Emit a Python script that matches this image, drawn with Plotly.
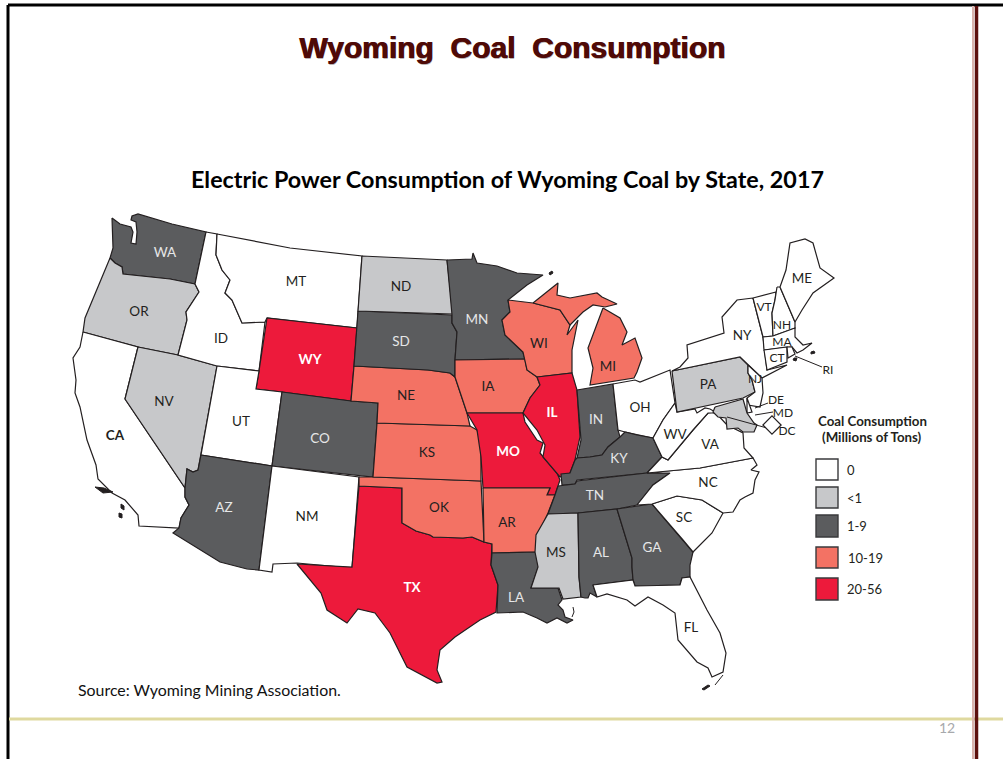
import plotly.graph_objects as go

SLIDE_TITLE = "Wyoming  Coal  Consumption"
MAP_TITLE = "Electric Power Consumption of Wyoming Coal by State, 2017"
SOURCE = "Source: Wyoming Mining Association."
PAGE = "12"
LEGEND_TITLE = ["Coal Consumption", "(Millions of Tons)"]
LEGEND_LABELS = ["0", "<1", "1-9", "10-19", "20-56"]
CLASS_COLORS = ["#ffffff", "#c7c8ca", "#5b5c5e", "#f37264", "#ed1a3b"]

STATE_CLASS = {
    "WA": 2, "OR": 1, "CA": 0, "ID": 0, "NV": 1, "MT": 0, "WY": 4, "UT": 0, "AZ": 2, "CO": 2, "NM": 0,
    "ND": 1, "SD": 2, "NE": 3, "KS": 3, "OK": 3, "TX": 4, "MN": 2, "IA": 3, "MO": 4, "AR": 3, "LA": 2,
    "WI": 3, "IL": 4, "MI": 3, "IN": 2, "OH": 0, "KY": 2, "TN": 2, "MS": 1, "AL": 2, "GA": 2, "FL": 0,
    "SC": 0, "NC": 0, "VA": 0, "WV": 0, "PA": 1, "NY": 0, "VT": 0, "NH": 0, "ME": 0, "MA": 0, "CT": 0,
    "RI": 0, "NJ": 0, "DE": 0, "MD": 1,
}

# Boundary geometry of the map (map units)
OUTLINES = {
    "WA": [[(112,218),(120,224),(131,227),(133,232),(131,243),(136,244),(137,232),(136,222),(131,220),(132,216),(138,214),(172,224),(206,232),(195,284),(170,279),(123,274),(122,267),(115,263),(110,258),(113,248)]],
    "OR": [[(110,258),(115,263),(122,267),(123,274),(170,279),(195,284),(199,292),(186,312),(187,320),(178,355),(138,347),(83,332),(85,318),(96,292)]],
    "CA": [[(83,332),(138,347),(125,399),(185,488),(185,497),(189,505),(181,518),(179,528),(139,526),(138,515),(125,500),(112,493),(98,479),(96,465),(87,440),(83,420),(80,407),(75,393),(76,380),(73,358),(80,347)]],
    "NV": [[(138,347),(178,355),(217,366),(201,455),(198,470),(193,472),(187,469),(185,488),(125,399)]],
    "ID": [[(206,232),(217,234),(216,255),(222,270),(230,280),(225,293),(232,300),(242,323),(265,322),(259,371),(217,366),(178,355),(187,320),(186,312),(199,292),(195,284)]],
    "MT": [[(217,234),(290,248),(362,256),(357,328),(267,318),(265,322),(242,323),(232,300),(225,293),(230,280),(222,270),(216,255)]],
    "WY": [[(267,318),(357,328),(354,366),(351,401),(282,392),(256,389),(259,371)]],
    "UT": [[(217,366),(259,371),(256,389),(282,392),(272,466),(201,455)]],
    "CO": [[(282,392),(351,401),(378,403),(377,423),(373,477),(272,466)]],
    "AZ": [[(201,455),(272,466),(259,570),(247,569),(220,562),(173,533),(179,528),(181,518),(189,505),(185,497),(185,488),(187,469),(193,472),(198,470)]],
    "NM": [[(272,466),(359,477),(352,568),(297,563),(273,564),(272,572),(259,570)]],
    "TX": [[(359,486),(402,488),(402,523),(416,531),(430,535),(433,537),(463,538),(472,537),(484,542),(492,544),(491,565),(498,585),(496,612),(480,620),(455,637),(440,650),(437,670),(442,682),(437,683),(407,667),(390,633),(375,613),(358,609),(347,623),(327,610),(321,593),(297,564),(352,567)]],
    "OK": [[(359,477),(373,477),(481,481),(484,542),(472,537),(463,538),(433,537),(430,535),(416,531),(402,523),(402,488),(359,486)]],
    "KS": [[(377,423),(470,426),(477,430),(481,441),(481,481),(373,477)]],
    "NE": [[(354,366),(428,370),(450,373),(455,377),(467,413),(470,426),(377,423),(378,403),(351,401)]],
    "SD": [[(358,311),(452,315),(452,323),(457,332),(455,360),(455,377),(450,373),(428,370),(354,366)]],
    "ND": [[(362,256),(447,260),(453,314),(358,311)]],
    "MN": [[(447,260),(472,259),(473,253),(477,263),(497,266),(517,273),(543,275),(527,285),(508,300),(510,312),(502,320),(505,335),(523,352),(525,359),(455,360),(457,332),(452,323),(452,315)]],
    "IA": [[(455,360),(525,359),(527,370),(537,377),(540,385),(530,398),(523,413),(467,413),(455,377)]],
    "MO": [[(467,413),(523,413),(525,422),(537,440),(543,443),(540,453),(557,473),(560,480),(555,495),(547,495),(550,488),(483,488),(481,457),(477,430)]],
    "AR": [[(483,488),(550,488),(547,495),(555,495),(548,513),(537,537),(536,552),(492,553),(492,544),(484,542)]],
    "LA": [[(492,553),(536,552),(539,565),(531,588),(558,588),(562,600),(558,605),(563,610),(565,617),(573,620),(567,623),(557,618),(547,623),(537,618),(523,612),(497,613),(498,585),(491,565)]],
    "WI": [[(508,300),(533,303),(560,310),(570,325),(567,335),(578,320),(572,350),(572,373),(537,377),(527,370),(523,352),(505,335),(502,320),(510,312)]],
    "IL": [[(537,377),(572,373),(577,390),(580,437),(575,460),(570,473),(560,477),(543,457),(545,445),(537,430),(523,413),(530,398),(540,385)]],
    "MI": [[(533,303),(558,283),(557,295),(570,298),(597,293),(602,297),(617,304),(605,307),(593,305),(583,312),(570,325),(560,310)],
           [(603,308),(620,318),(627,332),(622,345),(635,338),(642,358),(637,372),(634,378),(590,385),(593,368),(588,348),(597,325)]],
    "IN": [[(577,390),(613,384),(618,430),(620,437),(608,447),(602,455),(590,457),(577,458),(581,440)]],
    "OH": [[(613,384),(635,380),(640,382),(670,370),(675,403),(663,420),(653,438),(637,435),(625,432),(618,430)]],
    "KY": [[(620,437),(625,432),(637,435),(653,438),(662,457),(647,473),(577,480),(575,484),(562,485),(561,474),(570,473),(575,460),(577,458),(590,457),(602,455),(608,447)]],
    "TN": [[(558,486),(575,484),(577,481),(647,473),(670,473),(653,485),(637,505),(617,509),(578,513),(548,514),(555,495)]],
    "MS": [[(548,514),(578,513),(579,577),(581,597),(563,599),(559,588),(531,588),(538,567),(535,552),(536,535)]],
    "AL": [[(578,513),(617,509),(632,558),(632,567),(633,580),(593,585),(597,597),(590,593),(588,598),(585,598),(581,597),(579,577)]],
    "GA": [[(617,509),(652,504),(663,517),(683,540),(693,552),(690,565),(690,577),(682,578),(680,585),(635,586),(633,580),(632,567),(632,558)]],
    "FL": [[(593,585),(633,580),(635,586),(680,585),(682,578),(690,577),(707,610),(720,633),(726,653),(723,672),(712,677),(708,668),(697,662),(678,640),(675,613),(663,605),(648,597),(635,606),(627,600),(607,594),(597,597)]],
    "SC": [[(652,504),(677,496),(702,500),(723,513),(712,533),(693,552),(683,540),(663,517)]],
    "NC": [[(647,473),(700,468),(753,458),(757,465),(751,470),(759,472),(755,480),(753,493),(745,497),(740,500),(733,512),(723,513),(702,500),(677,496),(652,504),(637,505),(653,485),(670,473)]],
    "VA": [[(662,457),(668,460),(693,430),(708,413),(715,412),(727,425),(743,433),(744,448),(753,458),(700,468),(647,473)]],
    "WV": [[(653,438),(663,420),(675,403),(677,412),(695,409),(697,413),(705,408),(710,409),(717,413),(708,413),(693,430),(668,460),(662,457)]],
    "PA": [[(672,371),(740,357),(748,365),(748,373),(752,380),(755,392),(743,398),(677,412)]],
    "NY": [[(753,298),(737,300),(722,317),(724,333),(687,345),(688,358),(680,367),(672,371),(740,357),(748,365),(762,378),(787,365),(770,369),(767,370),(763,337)]],
    "NJ": [[(748,365),(762,378),(763,393),(760,407),(748,405),(747,398),(755,392),(752,380),(748,373)]],
    "DE": [[(747,398),(752,412),(747,413)]],
    "MD": [[(715,407),(743,399),(747,413),(754,423),(757,425),(754,432),(743,432),(738,428),(727,429),(726,418),(718,417),(713,412)]],
    "VT": [[(753,298),(776,292),(775,300),(772,313),(773,336),(763,337)]],
    "NH": [[(777,287),(780,287),(795,322),(795,328),(773,336),(772,313),(775,300),(776,292)]],
    "ME": [[(780,287),(786,270),(790,243),(805,239),(813,243),(820,268),(834,278),(813,293),(802,310),(795,322)]],
    "MA": [[(763,337),(773,336),(795,328),(795,337),(803,345),(812,343),(803,350),(797,353),(792,347),(764,350)]],
    "CT": [[(764,350),(787,347),(787,362),(767,370)]],
    "RI": [[(787,347),(792,347),(795,354),(788,358)]],
}
ISLANDS = [
    [(95,487),(104,488),(113,492),(103,493)],
    [(121,504),(124,506),(124,510),(121,508)],
    [(119,513),(122,514),(122,518),(119,517)],
    [(811,352),(814,351),(815,353),(811,354)],
    [(794,358),(797,358),(796,361),(793,360)],
    [(702,689),(708,685),(710,686),(704,690)],
    [(549,273),(552,271),(553,273),(550,275)],
]
LEADERS = [
    [(795,356),(822,367)],
    [(755,408),(768,403)],
    [(755,415),(773,412)],
    [(727,417),(767,428)],
    [(723,675),(715,685)],
    [(573,607),(574,612),(572,617)],
]

LABELS = {
    "WA": (165,254,"#e6e7e8",0), "OR": (139,313,"#231f20",0), "CA": (115,437,"#231f20",1), "ID": (221,340,"#231f20",0),
    "NV": (164,403,"#231f20",0), "MT": (296,283,"#231f20",0), "WY": (310,361,"#ffffff",1), "UT": (241,423,"#231f20",0),
    "AZ": (224,509,"#e6e7e8",0), "CO": (320,440,"#e6e7e8",0), "NM": (307,518,"#231f20",0), "ND": (401,288,"#231f20",0),
    "SD": (401,343,"#e6e7e8",0), "NE": (406,397,"#231f20",0), "KS": (427,454,"#231f20",0), "OK": (439,509,"#231f20",0),
    "TX": (412,589,"#ffffff",1), "MN": (477,321,"#e6e7e8",0), "IA": (488,388,"#231f20",0), "MO": (508,453,"#ffffff",1),
    "AR": (507,524,"#231f20",0), "LA": (516,599,"#e6e7e8",0), "MS": (556,554,"#231f20",0), "AL": (601,554,"#e6e7e8",0),
    "GA": (652,549,"#e6e7e8",0), "FL": (691,629,"#231f20",0), "SC": (684,519,"#231f20",0), "NC": (708,484,"#231f20",0),
    "VA": (710,446,"#231f20",0), "WV": (675,436,"#231f20",0), "PA": (708,386,"#231f20",0), "NY": (742,337,"#231f20",0),
    "VT": (764,308,"#231f20",0), "NH": (782,326,"#231f20",0), "MA": (782,343,"#231f20",0), "CT": (777,359,"#231f20",0),
    "ME": (802,280,"#231f20",0), "NJ": (755,380,"#231f20",0), "DE": (776,401,"#231f20",0), "MD": (783,414,"#231f20",0),
    "DC": (787,432,"#231f20",0), "RI": (828,371,"#231f20",0), "OH": (640,409,"#231f20",0), "KY": (619,460,"#e6e7e8",0),
    "IN": (596,421,"#e6e7e8",0), "IL": (552,414,"#ffffff",1), "TN": (595,497,"#e6e7e8",0), "WI": (539,345,"#231f20",0),
    "MI": (608,368,"#231f20",0),
}
SMALL_LABELS = ["DE", "MD", "DC", "MA", "CT", "NH", "VT", "NJ", "RI"]

FONT = "Lato"
INK = "#231f20"
fig = go.Figure()

def ring_xy(rings):
    xs, ys = [], []
    for ring in rings:
        closed = list(ring) + [ring[0]]
        xs += [p[0] for p in closed] + [None]
        ys += [p[1] for p in closed] + [None]
    return xs, ys

for st, rings in OUTLINES.items():
    xs, ys = ring_xy(rings)
    fig.add_trace(go.Scatter(x=xs, y=ys, mode="lines", fill="toself", name=st,
                             fillcolor=CLASS_COLORS[STATE_CLASS[st]],
                             line=dict(color=INK, width=1.2), hoverinfo="name", showlegend=False))

xs, ys = ring_xy(ISLANDS)
fig.add_trace(go.Scatter(x=xs, y=ys, mode="lines", fill="toself", fillcolor=INK,
                         line=dict(color=INK, width=1), hoverinfo="skip", showlegend=False))
for seg in LEADERS:
    fig.add_trace(go.Scatter(x=[p[0] for p in seg], y=[p[1] for p in seg], mode="lines",
                             line=dict(color=INK, width=1), hoverinfo="skip", showlegend=False))
fig.add_trace(go.Scatter(x=[772], y=[425], mode="markers", hoverinfo="skip", showlegend=False,
                         marker=dict(symbol="diamond", size=14, color="#ffffff", line=dict(color=INK, width=1.2))))

names = list(LABELS)
fig.add_trace(go.Scatter(
    x=[LABELS[n][0] for n in names], y=[LABELS[n][1] for n in names], mode="text",
    text=[f"<b>{n}</b>" if LABELS[n][3] else n for n in names],
    textfont=dict(family=FONT, size=[12 if n in SMALL_LABELS else 13.5 for n in names],
                  color=[LABELS[n][2] for n in names]),
    hoverinfo="skip", showlegend=False))

# slide furniture and legend swatches
shapes = [
    dict(type="line", x0=8, x1=1003, y0=5, y1=5, line=dict(color="#000000", width=3)),
    dict(type="line", x0=8, x1=8, y0=5, y1=759, line=dict(color="#000000", width=3)),
    dict(type="line", x0=9, x1=1003, y0=719, y1=719, line=dict(color="#dfd99f", width=3)),
    dict(type="line", x0=973, x1=973, y0=6, y1=759, line=dict(color="#d9b3ad", width=2)),
    dict(type="line", x0=976.5, x1=976.5, y0=6, y1=759, line=dict(color="#5c0f0c", width=3.5)),
]
swatch_y = [(459,480),(487,508),(515,537),(547,568),(578,600)]
label_x = [845,845,845,846,845]
for color, (y0, y1) in zip(CLASS_COLORS, swatch_y):
    shapes.append(dict(type="rect", x0=816, x1=838, y0=y0, y1=y1, fillcolor=color, line=dict(color="#3a3a3c", width=1.4)))

def note(text, x, y, size, color=INK, anchor="left", family=FONT):
    return dict(text=text, x=x, y=y, xref="x", yref="y", xanchor=anchor, yanchor="middle", showarrow=False,
                font=dict(family=family, size=size, color=color))

anns = [
    note("<b>%s</b>" % SLIDE_TITLE, 513, 48, 30, "#b9b3b3", "center", "Liberation Sans"),
    note("<b>%s</b>" % SLIDE_TITLE, 512, 47, 30, "#4f0a07", "center", "Liberation Sans"),
    note("<b>%s</b>" % SLIDE_TITLE, 512.5, 47, 30, "#4f0a07", "center", "Liberation Sans"),
    note("<b>%s</b>" % MAP_TITLE, 507, 179, 23.3, "#000000", "center"),
    note(SOURCE, 76, 689, 15.9, "#111111"),
    note(PAGE, 947, 727, 14, "#a7a9ac", "center"),
    note("<b>%s</b>" % LEGEND_TITLE[0], 872, 421, 13.3, INK, "center"),
    note("<b>%s</b>" % LEGEND_TITLE[1], 872, 437, 13.3, INK, "center"),
]
for txt, x, (y0, y1) in zip(LEGEND_LABELS, label_x, swatch_y):
    anns.append(note(txt.replace("<", "&lt;"), x, (y0 + y1) / 2, 13, INK))

fig.update_layout(
    width=1003, height=759, margin=dict(l=0, r=0, t=0, b=0), paper_bgcolor="white", plot_bgcolor="white",
    xaxis=dict(range=[0, 1003], visible=False, fixedrange=True),
    yaxis=dict(range=[759, 0], visible=False, fixedrange=True),
    shapes=shapes, annotations=anns, showlegend=False, hovermode="closest",
)
fig.write_html("out.html", config=dict(displayModeBar=False),
               post_script="document.body.style.margin='0';document.body.style.overflow='hidden';")
